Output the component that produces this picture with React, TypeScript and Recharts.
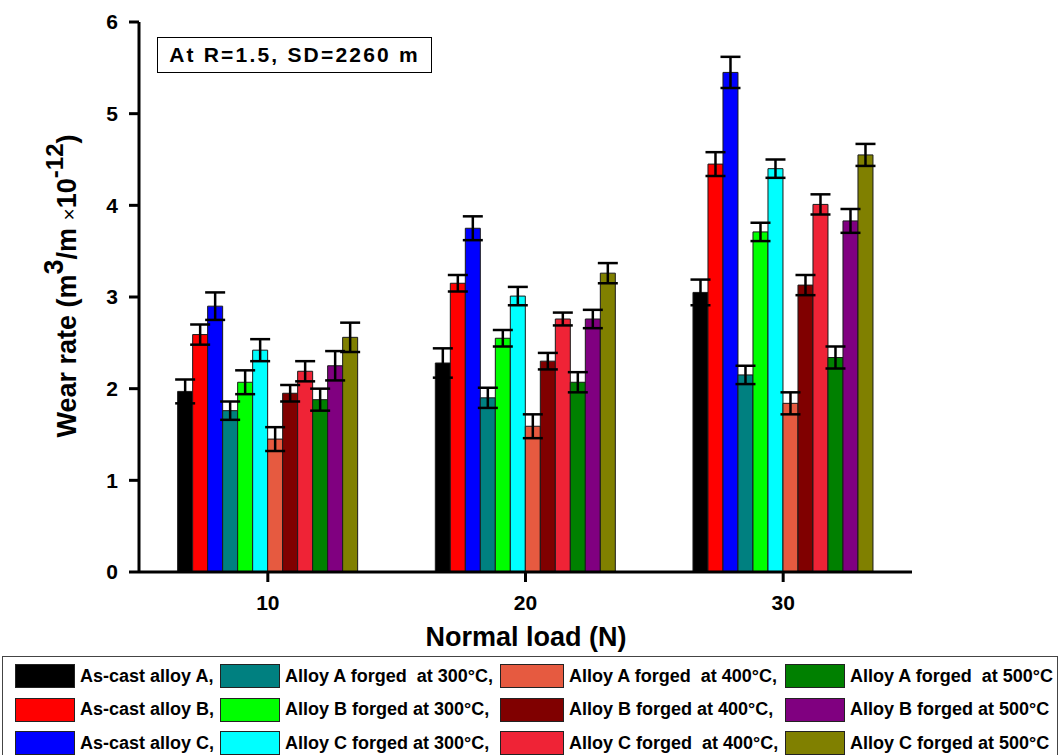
import React from "react";
import { BarChart, Bar, XAxis, YAxis, ErrorBar, Label } from "recharts";

const loads = ["10", "20", "30"];

// series order = bar order inside each load group
const seriesNames = [
  "As-cast alloy A,",
  "As-cast alloy B,",
  "As-cast alloy C,",
  "Alloy A forged  at 300°C,",
  "Alloy B forged at 300°C,",
  "Alloy C forged at 300°C,",
  "Alloy A forged  at 400°C,",
  "Alloy B forged at 400°C,",
  "Alloy C forged  at 400°C,",
  "Alloy A forged  at 500°C",
  "Alloy B forged at 500°C",
  "Alloy C forged at 500°C",
];

const seriesColors = [
  "#000000", "#ff0000", "#0000ff",
  "#008080", "#00ff00", "#00ffff",
  "#e65a40", "#800000", "#ef2336",
  "#008000", "#800080", "#808000",
];

const wear10 = [1.97, 2.59, 2.9, 1.76, 2.07, 2.42, 1.45, 1.95, 2.19, 1.88, 2.25, 2.56];
const wear20 = [2.28, 3.15, 3.75, 1.9, 2.55, 3.01, 1.59, 2.3, 2.76, 2.07, 2.76, 3.26];
const wear30 = [3.05, 4.45, 5.45, 2.15, 3.71, 4.4, 1.84, 3.13, 4.01, 2.34, 3.83, 4.55];

const err10 = [0.13, 0.11, 0.15, 0.1, 0.13, 0.12, 0.13, 0.09, 0.11, 0.12, 0.16, 0.16];
const err20 = [0.16, 0.09, 0.13, 0.11, 0.09, 0.1, 0.13, 0.09, 0.07, 0.11, 0.1, 0.11];
const err30 = [0.14, 0.13, 0.17, 0.1, 0.1, 0.1, 0.12, 0.11, 0.11, 0.12, 0.13, 0.12];

const yTicks = [0, 1, 2, 3, 4, 5, 6];

const wearByLoad = [wear10, wear20, wear30];
const errByLoad = [err10, err20, err30];

const data = loads.map((load, i) => {
  const row: Record<string, any> = { load };
  seriesNames.forEach((_, s) => {
    row["s" + s] = wearByLoad[i][s];
    row["e" + s] = errByLoad[i][s];
  });
  return row;
});

const font = "'Liberation Sans', Arial, sans-serif";

// legend columns: left edge of each swatch
const legendCols = [12, 217, 497, 782];
const legendSwatchW = [60, 60, 64, 60];

const YTitle = () => (
  <text
    transform="translate(76, 286) rotate(-90)"
    textAnchor="middle"
    fontFamily={font}
    fontWeight="bold"
    fontSize={27}
    fill="#000"
  >
    Wear rate (m
    <tspan dy={-13} fontSize={27}>3</tspan>
    <tspan dy={13}>/m </tspan>
    <tspan fontWeight="normal" fontSize={21}>×</tspan>
    <tspan>10</tspan>
    <tspan dy={-13} fontSize={24}>-12</tspan>
    <tspan dy={13}>)</tspan>
  </text>
);

const XTitle = () => (
  <text
    x={526}
    y={646}
    textAnchor="middle"
    fontFamily={font}
    fontWeight="bold"
    fontSize={27}
    fill="#000"
  >
    Normal load (N)
  </text>
);

export default function App() {
  return (
    <div style={{ position: "absolute", left: 0, top: 0, width: 1060, height: 755, background: "#fff", overflow: "hidden" }}>
      <BarChart
        width={1060}
        height={755}
        data={data}
        margin={{ top: 22, right: 148, bottom: 143, left: 0 }}
        barCategoryGap="15%"
        barGap={0}
      >
        <XAxis
          dataKey="load"
          height={40}
          tickSize={10}
          tickMargin={13}
          axisLine={{ stroke: "#000", strokeWidth: 3 }}
          tickLine={{ stroke: "#000", strokeWidth: 3 }}
          tick={{ fill: "#000", fontSize: 21, fontWeight: "bold", fontFamily: font }}
        >
          <Label content={XTitle} />
        </XAxis>
        <XAxis
          xAxisId="top"
          dataKey="load"
          orientation="top"
          height={0}
          tick={false}
          tickLine={false}
          axisLine={{ stroke: "#000", strokeWidth: 3 }}
        />
        <YAxis
          width={139}
          domain={[0, 6]}
          ticks={yTicks}
          tickSize={10}
          tickMargin={11}
          axisLine={{ stroke: "#000", strokeWidth: 3 }}
          tickLine={{ stroke: "#000", strokeWidth: 3 }}
          tick={{ fill: "#000", fontSize: 21, fontWeight: "bold", fontFamily: font }}
        >
          <Label content={YTitle} />
        </YAxis>
        <YAxis
          yAxisId="right"
          orientation="right"
          width={0}
          domain={[0, 6]}
          tick={false}
          tickLine={false}
          axisLine={{ stroke: "#000", strokeWidth: 3 }}
        />
        {seriesNames.map((name, s) => (
          <Bar
            key={name}
            dataKey={"s" + s}
            name={name}
            fill={seriesColors[s]}
            stroke="#1a1a1a"
            strokeWidth={1}
            isAnimationActive={false}
          >
            <ErrorBar
              dataKey={"e" + s}
              direction="y"
              width={10}
              stroke="#000"
              strokeWidth={2.5}
              isAnimationActive={false}
            />
          </Bar>
        ))}
      </BarChart>

      <div
        style={{
          position: "absolute",
          left: 157,
          top: 37,
          width: 273,
          height: 34,
          border: "1.5px solid #000",
          fontFamily: font,
          fontWeight: "bold",
          fontSize: 21,
          letterSpacing: 2.2,
          lineHeight: "34px",
          textAlign: "center",
          color: "#000",
        }}
      >
        At R=1.5, SD=2260 m
      </div>

      <div
        style={{
          position: "absolute",
          left: 2,
          top: 656,
          width: 1054,
          height: 110,
          border: "1.5px solid #444",
          fontFamily: font,
          fontWeight: "bold",
          fontSize: 18,
          color: "#000",
        }}
      >
        {seriesNames.map((name, s) => {
          const col = Math.floor(s / 3);
          const row = s % 3;
          return (
            <div
              key={name}
              style={{
                position: "absolute",
                left: legendCols[col],
                top: 7 + row * 33.5,
                display: "flex",
                alignItems: "center",
                whiteSpace: "pre",
              }}
            >
              <span
                style={{
                  display: "inline-block",
                  width: legendSwatchW[col],
                  height: 24,
                  background: seriesColors[s],
                  border: "1.5px solid #222",
                  boxSizing: "border-box",
                  marginRight: 5,
                }}
              />
              <span>{name}</span>
            </div>
          );
        })}
      </div>
    </div>
  );
}
